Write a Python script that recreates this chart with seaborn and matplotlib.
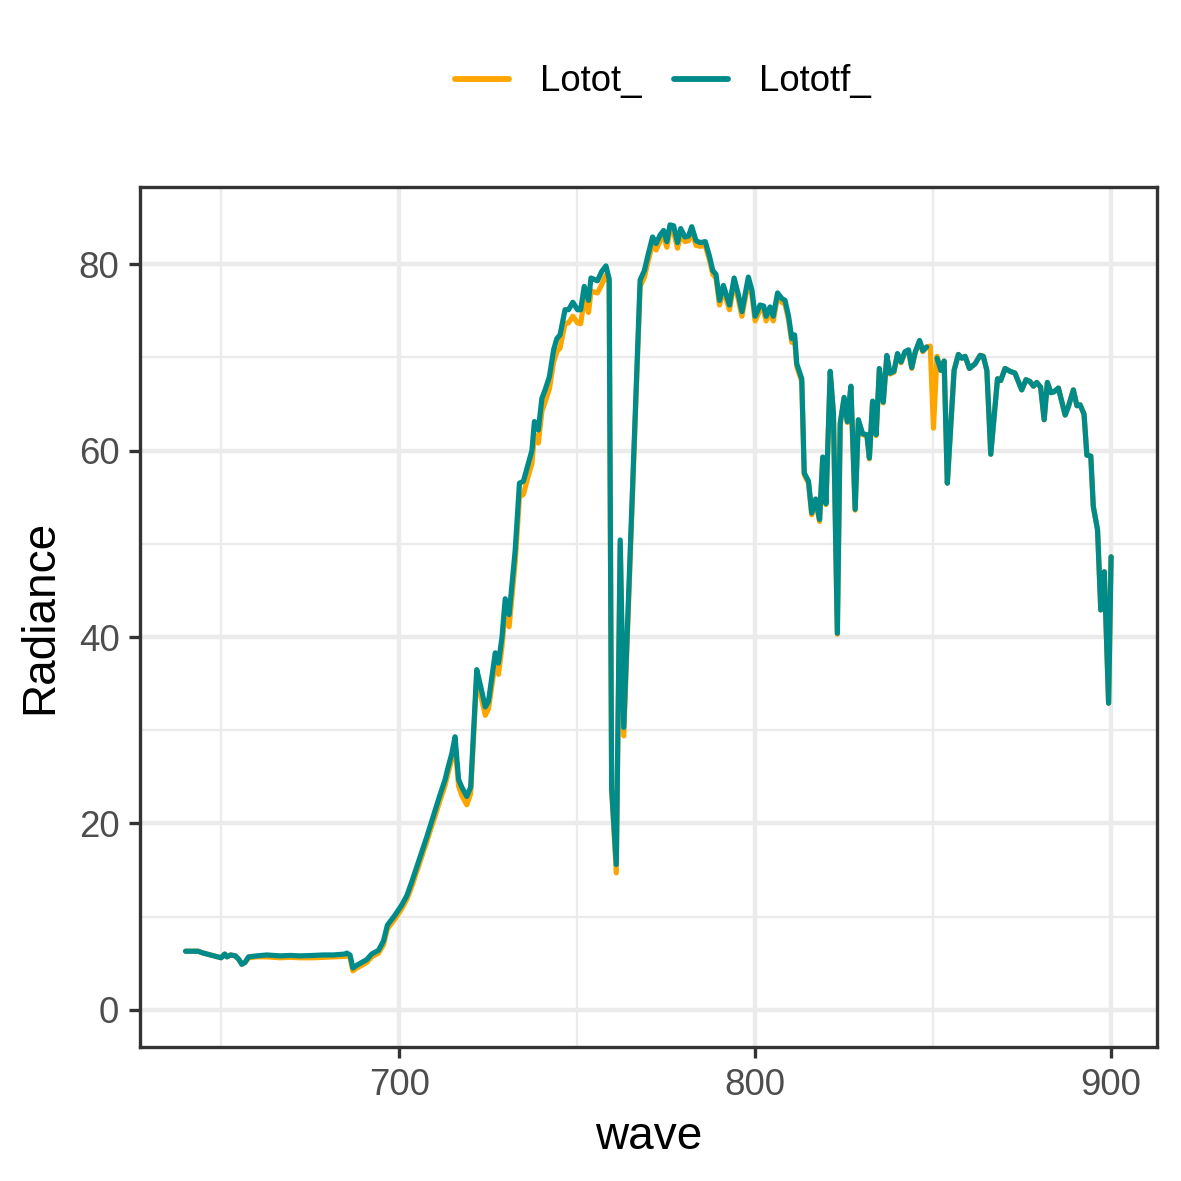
import numpy as np
import pandas as pd
import matplotlib
matplotlib.use('Agg')
import matplotlib.pyplot as plt
import seaborn as sns
from matplotlib.ticker import MultipleLocator

# spectra (wave in nm, radiance)
wave = [
    640.0, 643.5, 645.0, 647.0, 649.0, 650.0, 651.0, 651.6, 652.7, 654.0,
    655.0, 655.8, 656.7, 657.7, 660.0, 662.8, 666.6, 669.4, 672.2, 675.9,
    678.7, 681.5, 684.8, 685.3, 686.2, 687.0, 688.1, 689.5, 690.9, 692.3,
    694.2,
    695.6, 696.7, 697.5, 698.9, 700.8, 702.2, 703.6, 705.0, 706.4, 707.8,
    708.7, 710.1, 711.5, 712.9, 713.8, 714.8, 715.7, 716.7, 717.6, 719.0,
    720.1, 721.8, 722.9, 724.2, 725.1, 727.0, 727.9, 728.9,
    729.8, 730.9, 732.6, 733.8, 734.9, 736.3, 737.3, 738.0, 739.1, 740.1,
    741.0, 742.2, 743.4, 744.3, 745.2, 746.6, 747.6, 748.8, 750.1, 751.0,
    752.0, 753.2, 753.9, 755.7, 756.9, 758.1, 759.0,
    759.7, 761.0, 762.1, 763.1,
    767.7, 768.9, 770.0, 771.2, 772.2, 773.3, 774.3, 775.2, 776.1, 777.1,
    778.2, 779.1, 780.3, 781.3, 782.2, 783.4, 784.6, 786.0, 787.2, 788.1,
    789.0, 790.0, 791.1, 792.8, 794.1, 795.3, 796.3, 798.1, 799.1, 800.0,
    801.4, 802.4, 803.1, 804.2, 805.1, 806.3, 807.5, 808.4, 809.4, 810.3,
    811.1, 811.7, 813.1,
    813.8, 815.0, 815.9, 817.0, 818.1, 819.0, 819.9, 821.1, 822.0, 823.1,
    823.9, 825.0, 825.9, 826.9, 828.1, 829.0, 830.2, 831.4, 832.1, 833.0,
    834.0, 834.9, 836.0, 837.0, 837.9, 839.0, 840.0, 841.0, 842.1, 843.1,
    844.0, 845.0, 846.2, 847.1, 848.2,
    849.2, 850.1, 851.1, 852.2, 853.1, 854.0, 855.0, 855.9, 857.1, 858.1,
    859.0, 860.2,
    861.8, 863.2, 864.1, 865.1, 866.2, 868.1, 869.0, 870.2, 871.6, 873.0,
    874.9, 876.1, 877.2, 878.2, 879.1, 880.2, 881.2, 882.1, 883.1, 884.0,
    885.2, 887.1, 888.0, 889.4, 890.4, 891.3, 892.4, 893.2, 894.3, 895.0,
    896.2, 897.1, 898.1, 899.3, 900.0,
]

lototf = [
    6.3, 6.3, 6.1, 5.9, 5.7, 5.6, 6.0, 5.7, 5.9, 5.8,
    5.4, 4.9, 5.1, 5.7, 5.8, 5.9, 5.8, 5.85, 5.8, 5.85,
    5.9, 5.9, 6.0, 6.1, 5.9, 4.5, 4.8, 5.1, 5.4, 6.0,
    6.4,
    7.4, 9.1, 9.5, 10.2, 11.3, 12.3, 13.8, 15.4, 17.0, 18.6,
    19.7, 21.4, 23.1, 24.7, 26.1, 27.5, 29.3, 24.7, 23.9, 22.9,
    23.9, 36.5, 34.7, 32.5, 33.1, 38.3, 37.2, 40.0,
    44.1, 42.4, 49.3, 56.5, 56.7, 58.6, 60.0, 63.1, 62.2, 65.6,
    66.5, 67.9, 70.8, 72.0, 72.4, 75.1, 75.1, 75.9, 75.1, 75.1,
    77.6, 76.1, 78.5, 78.2, 79.2, 79.8, 78.4,
    23.7, 15.6, 50.4, 30.3,
    78.3, 79.3, 81.1, 82.9, 82.2, 83.1, 83.6, 82.4, 84.2, 84.1,
    82.3, 83.8, 82.9, 83.0, 84.0, 82.5, 82.3, 82.4, 80.8, 79.3,
    78.9, 76.1, 77.7, 75.6, 78.5, 76.7, 74.9, 78.6, 77.2, 74.4,
    75.6, 75.5, 74.4, 75.4, 74.4, 76.9, 76.3, 76.1, 74.4, 72.0,
    72.4, 69.3, 67.7,
    57.6, 56.7, 53.3, 54.8, 52.6, 59.3, 54.3, 68.5, 64.0, 40.4,
    62.9, 65.7, 63.1, 66.9, 53.7, 63.3, 61.8, 61.7, 59.2, 65.3,
    61.7, 68.8, 65.2, 70.2, 68.3, 68.5, 70.4, 69.5, 70.6, 70.8,
    68.9, 70.6, 71.8, 70.7, 71.1,
    np.nan, np.nan, 69.9, 68.6, 69.6, 56.5, 62.9, 68.6, 70.3, 69.9,
    70.1, 68.8,
    69.3, 70.2, 70.1, 68.6, 59.6, 67.7, 67.5, 68.8, 68.5, 68.3,
    66.5, 67.6, 67.4, 66.9, 67.3, 66.8, 63.3, 67.3, 66.2, 66.3,
    66.7, 63.8, 64.7, 66.5, 64.8, 64.9, 63.9, 59.5, 59.4, 54.0,
    51.5, 42.9, 47.0, 32.9, 48.6,
]

lotot = [
    6.3, 6.3, 6.1, 5.9, 5.7, 5.6, 6.0, 5.7, 5.9, 5.8,
    5.4, 4.9, 5.1, 5.6, 5.7, 5.7, 5.6, 5.65, 5.6, 5.6,
    5.65, 5.7, 5.75, 5.9, 5.6, 4.2, 4.5, 4.8, 5.1, 5.7,
    6.1,
    7.0, 8.7, 9.1, 9.8, 10.9, 11.9, 13.3, 14.9, 16.5, 18.1,
    19.2, 20.8, 22.5, 24.1, 25.5, 26.9, 28.6, 24.0, 23.0, 22.0,
    23.2, 35.8, 33.8, 31.6, 32.3, 37.3, 36.0, 39.0,
    42.8, 41.1, 48.0, 55.0, 55.3, 57.3, 58.6, 61.7, 60.8, 64.2,
    65.2, 66.6, 69.5, 70.6, 71.0, 73.6, 73.7, 74.4, 73.7, 73.6,
    76.3, 74.8, 77.1, 76.9, 77.8, 78.8, 78.0,
    23.7, 14.7, 50.0, 29.4,
    77.6, 78.6, 80.4, 82.2, 81.5, 82.5, 83.0, 81.8, 83.6, 83.5,
    81.7, 83.2, 82.4, 82.5, 83.5, 82.0, 81.9, 82.0, 80.4, 78.9,
    78.5, 75.6, 77.2, 75.1, 78.0, 76.2, 74.4, 78.1, 76.7, 73.9,
    75.1, 75.0, 73.9, 74.9, 73.9, 76.5, 75.9, 75.7, 74.0, 71.6,
    72.0, 69.0, 67.4,
    57.4, 56.5, 53.1, 54.6, 52.4, 59.2, 54.2, 68.4, 63.9, 40.3,
    62.8, 65.6, 63.0, 66.8, 53.6, 63.2, 61.7, 61.6, 59.1, 65.2,
    61.6, 68.7, 65.1, 70.1, 68.2, 68.4, 70.3, 69.4, 70.5, 70.7,
    68.8, 70.5, 71.7, 70.6, 71.1,
    71.2, 62.4, 70.1, 68.6, 69.6, 56.5, 62.9, 68.6, 70.3, 69.9,
    70.1, 68.8,
    69.3, 70.2, 70.1, 68.6, 59.6, 67.7, 67.5, 68.8, 68.5, 68.3,
    66.5, 67.6, 67.4, 66.9, 67.3, 66.8, 63.3, 67.3, 66.2, 66.3,
    66.7, 63.8, 64.7, 66.5, 64.8, 64.9, 63.9, 59.5, 59.4, 54.0,
    51.5, 42.9, 47.0, 32.9, 48.6,
]

series_names = ['Lotot_', 'Lototf_']
series_colors = ['#FFA500', '#008B8B']

assert len(wave) == len(lototf) == len(lotot)


def to_long():
    frames = []
    for name, vals in zip(series_names, [lotot, lototf]):
        d = pd.DataFrame({'wave': wave, 'Radiance': vals})
        # break the line where values are missing
        d['seg'] = d['Radiance'].isna().cumsum()
        d['series'] = name
        frames.append(d.dropna())
    out = pd.concat(frames, ignore_index=True)
    out['unit'] = out['series'] + out['seg'].astype(str)
    return out


df = to_long()

sns.set_theme(style='white')
plt.rcParams['font.family'] = ['Liberation Sans', 'DejaVu Sans']

W = 1181 / 300
fig = plt.figure(figsize=(W, W), dpi=300)
ax = fig.add_axes([140 / 1181, 1 - 1047 / 1181, (1157 - 140) / 1181, (1047 - 187) / 1181])

sns.lineplot(data=df, x='wave', y='Radiance', hue='series', hue_order=series_names,
             palette=series_colors, units='unit', estimator=None, sort=False,
             linewidth=1.25, ax=ax)

ax.set_xlim(627.2, 912.9)
ax.set_ylim(-3.97, 88.26)
ax.xaxis.set_major_locator(MultipleLocator(100))
ax.xaxis.set_minor_locator(MultipleLocator(50))
ax.yaxis.set_major_locator(MultipleLocator(20))
ax.yaxis.set_minor_locator(MultipleLocator(10))
ax.grid(which='major', color='#EBEBEB', linewidth=1.07)
ax.grid(which='minor', color='#EBEBEB', linewidth=0.53)
ax.set_axisbelow(True)
for s in ax.spines.values():
    s.set_color('#333333')
    s.set_linewidth(0.8)
ax.tick_params(which='major', direction='out', length=2.75, width=0.8, color='#333333',
               labelsize=8.8, labelcolor='#4D4D4D', pad=2.2, left=True, bottom=True)
ax.tick_params(which='minor', length=0)
ax.set_xlabel('wave', fontsize=11, color='black', labelpad=3)
ax.set_ylabel('Radiance', fontsize=11, color='black', labelpad=4)

handles, labels = ax.get_legend_handles_labels()
ax.get_legend().remove()
for h in handles:
    h.set_linewidth(1.4)
leg = fig.legend(handles, labels, loc='center', bbox_to_anchor=(663 / 1181, 1 - 82 / 1181),
                 ncol=2, frameon=False, fontsize=8.8, handlelength=1.45, handletextpad=0.85,
                 columnspacing=0.9)
for t in leg.get_texts():
    t.set_color('black')

fig.savefig('out.png', dpi=300)
